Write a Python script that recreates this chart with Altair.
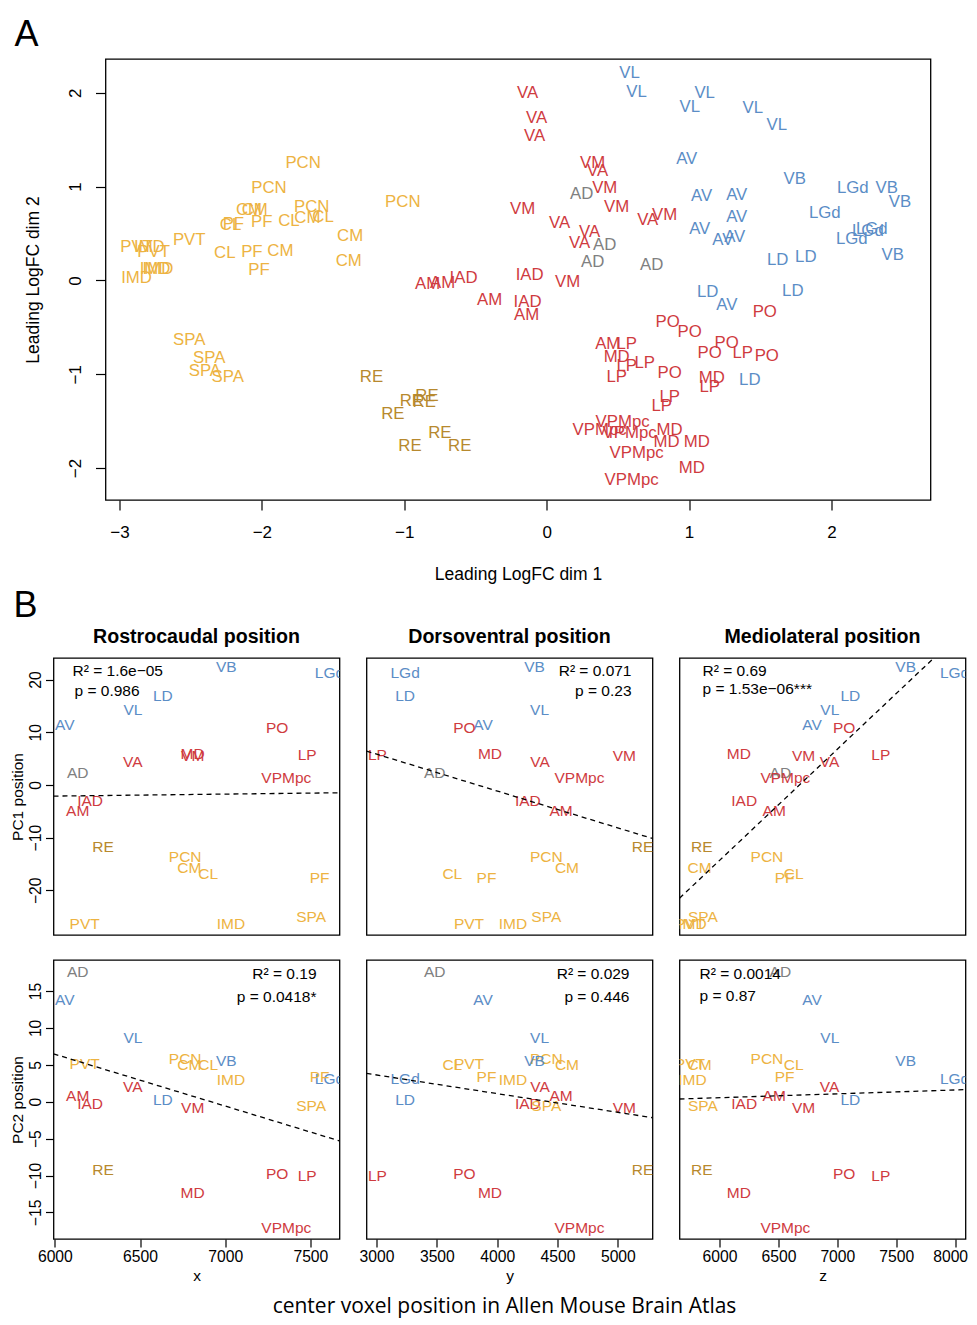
import altair as alt
import pandas as pd

# ---------------- Panel A: MDS of replicate samples ----------------
a_labels = [
    # midline / intralaminar (yellow)
    "PCN", "PCN", "PCN", "CM", "CM", "CL", "PF", "PF", "CL", "CM", "CL", "PCN", "CM", "CM",
    "PVT", "PVT", "IMD", "PVT", "IMD", "IMD", "IMD", "CL", "PF", "CM", "PF",
    "SPA", "SPA", "SPA", "SPA",
    # RE
    "RE", "RE", "RE", "RE", "RE", "RE", "RE", "RE",
    # red group
    "VA", "VA", "VA", "VM", "VA", "VM", "VM", "VM", "VA", "VA", "VA", "VA", "VM",
    "IAD", "VM", "AM", "AM", "IAD", "AM", "IAD", "AM",
    "PO", "PO", "PO", "AM", "LP", "MD", "LP", "LP", "LP", "PO", "PO", "PO", "LP", "PO",
    "MD", "LP", "LP", "LP", "VPMpc", "VPMpc", "VPMpc", "MD", "MD", "VPMpc", "MD", "MD", "VPMpc",
    # AD
    "AD", "AD", "AD", "AD",
    # blue group
    "VL", "VL", "VL", "VL", "VL", "VL", "AV", "VB", "LGd", "VB", "VB", "LGd", "LGd", "LGd", "LGd",
    "AV", "AV", "AV", "AV", "AV", "AV", "VB", "LD", "LD", "LD", "LD", "AV", "LD",
]
a_x = [
    -1.71, -1.95, -1.65, -2.09, -2.05, -2.22, -2.20, -2.00, -1.81, -1.68, -1.57, -1.01, -1.38, -1.39,
    -2.51, -2.88, -2.79, -2.76, -2.75, -2.73, -2.88, -2.26, -2.07, -1.87, -2.02,
    -2.51, -2.37, -2.40, -2.24,
    -1.23, -1.08, -0.95, -0.84, -0.86, -0.96, -0.75, -0.61,
    -0.134, -0.070, -0.084, 0.323, 0.358, 0.408, -0.169, 0.492, 0.091, 0.302, 0.232, 0.710, 0.829,
    -0.119, 0.148, -0.836, -0.731, -0.583, -0.401, -0.134, -0.141,
    0.850, 1.005, 1.532, 0.429, 0.562, 0.492, 0.492, 0.562, 0.689, 0.864, 1.265, 1.145, 1.377, 1.546,
    1.160, 1.145, 0.864, 0.808, 0.534, 0.372, 0.583, 0.864, 0.843, 0.632, 1.054, 1.019, 0.597,
    0.246, 0.408, 0.323, 0.738,
    0.583, 0.632, 1.005, 1.110, 1.448, 1.616, 0.984, 1.743, 2.150, 2.389, 2.481, 1.954, 2.143, 2.256, 2.284,
    1.089, 1.335, 1.335, 1.075, 1.237, 1.321, 2.431, 1.623, 1.820, 1.131, 1.729, 1.265, 1.427,
]
a_y = [
    1.25, 0.98, 0.78, 0.75, 0.75, 0.59, 0.60, 0.62, 0.63, 0.67, 0.68, 0.84, 0.47, 0.21,
    0.43, 0.36, 0.36, 0.30, 0.12, 0.12, 0.03, 0.29, 0.30, 0.31, 0.11,
    -0.63, -0.83, -0.96, -1.03,
    -1.03, -1.42, -1.28, -1.23, -1.30, -1.76, -1.63, -1.76,
    1.994, 1.727, 1.535, 1.247, 1.162, 0.981, 0.757, 0.778, 0.608, 0.512, 0.394, 0.640, 0.693,
    0.053, -0.021, -0.043, -0.032, 0.021, -0.213, -0.235, -0.373,
    -0.448, -0.554, -0.341, -0.682, -0.682, -0.821, -1.034, -0.917, -0.885, -0.991, -0.672, -0.778, -0.778, -0.800,
    -1.045, -1.141, -1.247, -1.333, -1.514, -1.599, -1.631, -1.599, -1.727, -1.844, -1.727, -2.004, -2.132,
    0.917, 0.373, 0.192, 0.160,
    2.207, 2.004, 1.844, 1.994, 1.834, 1.652, 1.290, 1.077, 0.981, 0.981, 0.832, 0.714, 0.437, 0.522, 0.544,
    0.896, 0.906, 0.672, 0.544, 0.426, 0.458, 0.267, 0.213, 0.245, -0.128, -0.117, -0.267, -1.066,
]

# ---------------- Panel B: per-region PCs vs. atlas position ----------------
b_regions = ["AD", "AM", "AV", "CL", "CM", "IAD", "IMD", "LD", "LGd", "LP", "MD",
             "PCN", "PF", "PO", "PVT", "RE", "SPA", "VA", "VB", "VL", "VM", "VPMpc"]
b_x = [6134, 6134, 6058, 6900, 6789, 6207, 7034, 6634, 7612, 7481, 6809,
       6765, 7554, 7305, 6175, 6283, 7505, 6458, 7006, 6458, 6809, 7359]
b_y = [3483, 4530, 3883, 3628, 4578, 4254, 4130, 3237, 3237, 3008, 3940,
       4407, 3911, 3729, 3766, 5204, 4407, 4355, 4310, 4351, 5054, 4682]
b_z = [6516, 6464, 6785, 6629, 5830, 6209, 5770, 7110, 7995, 7369, 6164,
       6402, 6552, 7058, 5748, 5850, 5858, 6934, 7580, 6936, 6714, 6559]
b_pc1 = [2.2, -5.0, 11.4, -16.9, -15.8, -3.0, -26.4, 16.8, 21.2, 5.7, 5.9,
         -13.7, -17.7, 10.8, -26.4, -11.8, -25.1, 4.4, 22.3, 14.2, 5.5, 1.3]
b_pc2 = [17.6, 0.8, 13.8, 5.0, 5.0, -0.3, 2.9, 0.3, 3.1, -10.0, -12.3,
         5.8, 3.3, -9.8, 5.1, -9.2, -0.6, 2.0, 5.5, 8.7, -0.8, -17.1]

YELLOW, RE_C, RED, GRAY, BLUE = "#EDB342", "#B7892E", "#CF3B3F", "#808080", "#5B8DC6"
region_colors = {
    "PCN": YELLOW, "CM": YELLOW, "CL": YELLOW, "PF": YELLOW, "PVT": YELLOW, "IMD": YELLOW, "SPA": YELLOW,
    "RE": RE_C,
    "VA": RED, "VM": RED, "IAD": RED, "AM": RED, "PO": RED, "LP": RED, "MD": RED, "VPMpc": RED,
    "AD": GRAY,
    "VL": BLUE, "AV": BLUE, "VB": BLUE, "LGd": BLUE, "LD": BLUE,
}
color_scale = alt.Scale(domain=list(region_colors.keys()), range=list(region_colors.values()))
FONT = "Liberation Sans"

# ---------------- Panel A chart ----------------
dfA = pd.DataFrame({"label": a_labels, "ax": a_x, "ay": a_y})
xA = alt.X("ax:Q", scale=alt.Scale(domain=[-3.098, 2.696], nice=False, zero=False),
           axis=alt.Axis(values=[-3, -2, -1, 0, 1, 2], format="d", title="Leading LogFC dim 1",
                         tickSize=10, labelPadding=14.5, labelFontSize=17, titleFontSize=17.5, titlePadding=25))
yA = alt.Y("ay:Q", scale=alt.Scale(domain=[-2.34, 2.36], nice=False, zero=False),
           axis=alt.Axis(values=[-2, -1, 0, 1, 2], format="d", title="Leading LogFC dim 2",
                         tickSize=10, labelPadding=15.5, labelAngle=270, labelAlign="center",
                         labelBaseline="alphabetic", labelFontSize=17, titleFontSize=17.5, titlePadding=24))
textA = alt.Chart(dfA).mark_text(fontSize=16.8, font=FONT, clip=True).encode(
    x=xA, y=yA, text="label:N", color=alt.Color("label:N", scale=color_scale, legend=None))
letterA = alt.Chart(pd.DataFrame({"t": ["A"]})).mark_text(
    fontSize=36, font=FONT, align="center", baseline="top", color="black"
).encode(x=alt.value(-79), y=alt.value(-41.5), text="t:N")
letterB = alt.Chart(pd.DataFrame({"t": ["B"]})).mark_text(
    fontSize=36, font=FONT, align="center", baseline="middle", color="black"
).encode(x=alt.value(-80), y=alt.value(547), text="t:N")
panelA = alt.layer(textA, letterA, letterB).properties(width=825, height=441)

spacer = alt.Chart(pd.DataFrame({"v": [0]})).mark_point(opacity=0).properties(
    width=52, height=10, view=alt.ViewBackground(strokeOpacity=0))
topRow = alt.hconcat(spacer, panelA, spacing=0, bounds="flush")

# ---------------- Panel B charts ----------------
dfB = pd.DataFrame({"label": b_regions, "x": b_x, "y": b_y, "z": b_z, "pc1": b_pc1, "pc2": b_pc2})

xinfo = {
    "x": ([5992, 7671], [6000, 6500, 7000, 7500]),
    "y": ([2917, 5287], [3000, 3500, 4000, 4500, 5000]),
    "z": ([5660, 8088], [6000, 6500, 7000, 7500, 8000]),
}
yinfo = {
    "pc1": ([-28.5, 24.1], [-20, -10, 0, 10, 20], "PC1 position"),
    "pc2": ([-18.6, 19.2], [-15, -10, -5, 0, 5, 10, 15], "PC2 position"),
}


def panel(xcol, ycol, width, height, show_x, show_y, title, notes, extra=None):
    xdom, xvals = xinfo[xcol]
    ydom, yvals, ytitle = yinfo[ycol]
    xaxis = None
    if show_x:
        xkw = dict(values=xvals, format="d", title=xcol, tickSize=8, labelPadding=2,
                   labelFontSize=15.7, titleFontSize=15.5, titlePadding=4.5)
        if xcol == "z":
            # keep the last tick label inside the page
            xkw["labelOffset"] = {"condition": {"test": "datum.value === 8000", "value": -5}, "value": 0}
        xaxis = alt.Axis(**xkw)
    yaxis = alt.Axis(values=yvals, format="d", title=ytitle, tickSize=8, labelPadding=5.5,
                     labelAngle=270, labelAlign="center", labelBaseline="alphabetic",
                     labelFontSize=15.7, titleFontSize=15.5, titlePadding=2) if show_y else None
    ex = alt.X(f"{xcol}:Q", scale=alt.Scale(domain=xdom, nice=False, zero=False), axis=xaxis)
    ey = alt.Y(f"{ycol}:Q", scale=alt.Scale(domain=ydom, nice=False, zero=False), axis=yaxis)
    txt = alt.Chart(dfB).mark_text(fontSize=15.5, font=FONT, clip=True).encode(
        x=ex, y=ey, text="label:N", color=alt.Color("label:N", scale=color_scale, legend=None))
    reg = alt.Chart(dfB).transform_regression(xcol, ycol, extent=xdom).mark_line(
        color="black", strokeDash=[5, 4], strokeWidth=1.3, clip=True).encode(x=ex, y=ey)
    layers = [txt, reg]
    for t, px, py, al in notes:
        layers.append(alt.Chart(pd.DataFrame({"t": [t]})).mark_text(
            fontSize=15.5, font=FONT, align=al, baseline="middle", color="black"
        ).encode(x=alt.value(px), y=alt.value(py), text="t:N"))
    if extra is not None:
        layers.append(extra)
    ch = alt.layer(*layers).properties(width=width, height=height)
    if title:
        ch = ch.properties(title=alt.TitleParams(title, fontSize=19.6, fontWeight="bold", font=FONT,
                                                 color="black", offset=10, anchor="middle"))
    return ch


caption = alt.Chart(pd.DataFrame({"t": ["center voxel position in Allen Mouse Brain Atlas"]})).mark_text(
    fontSize=21, font="Open Sans", align="center", baseline="middle", color="black"
).encode(x=alt.value(138), y=alt.value(347), text="t:N")

W1, W2, W3 = 286, 286, 286
H1, H2 = 277, 279

r1c1 = panel("x", "pc1", W1, H1, False, True, "Rostrocaudal position",
             [("R² = 1.6e−05", 19, 13, "left"), ("p = 0.986", 21, 33, "left")])
r1c2 = panel("y", "pc1", W2, H1, False, False, "Dorsoventral position",
             [("R² = 0.071", 265, 13, "right"), ("p = 0.23", 265, 33, "right")])
r1c3 = panel("z", "pc1", W3, H1, False, False, "Mediolateral position",
             [("R² = 0.69", 23, 13, "left"), ("p = 1.53e−06***", 23, 31, "left")])
r2c1 = panel("x", "pc2", W1, H2, True, True, None,
             [("R² = 0.19", 263, 14, "right"), ("p = 0.0418*", 263, 37, "right")])
r2c2 = panel("y", "pc2", W2, H2, True, False, None,
             [("R² = 0.029", 263, 14, "right"), ("p = 0.446", 263, 37, "right")], caption)
r2c3 = panel("z", "pc2", W3, H2, True, False, None,
             [("R² = 0.0014", 20, 14, "left"), ("p = 0.87", 20, 36, "left")])

row1 = alt.hconcat(r1c1, r1c2, r1c3, spacing=27, bounds="flush").resolve_scale(x="independent", y="independent")
row2 = alt.hconcat(r2c1, r2c2, r2c3, spacing=27, bounds="flush").resolve_scale(x="independent", y="independent")
rows = alt.vconcat(row1, row2, spacing=23).resolve_scale(x="independent", y="independent")

chart = alt.vconcat(topRow, rows, spacing=1).resolve_scale(
    x="independent", y="independent"
).configure_view(stroke="black", strokeWidth=1.3).configure_axis(
    domain=False, grid=False, tickColor="black", tickWidth=1.2, labelColor="black", titleColor="black",
    labelFont=FONT, titleFont=FONT, titleFontWeight="normal"
).properties(background="white", padding={"left": 0.5, "top": 7, "right": 0, "bottom": 0})

chart.save("out.html", embed_options={"renderer": "svg", "actions": False})
